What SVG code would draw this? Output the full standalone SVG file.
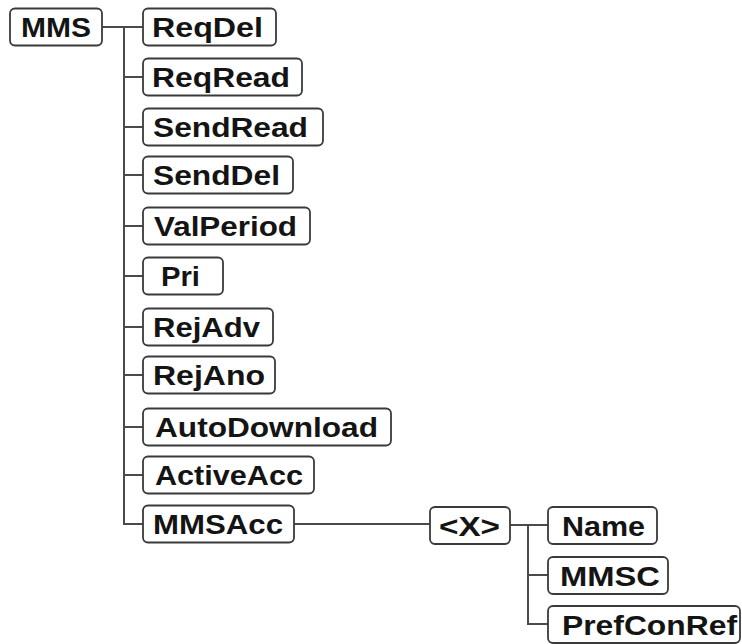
<svg xmlns="http://www.w3.org/2000/svg" width="742" height="644" viewBox="0 0 742 644">
  <style>
    .box { fill: #ffffff; stroke: #3a3a3a; stroke-width: 1.8; }
    .lbl { font-family: "Liberation Sans", Arial, sans-serif; font-weight: bold; font-size: 27px; fill: #141414; }
    .wire { fill: none; stroke: #4a4a4a; stroke-width: 2; }
  </style>
  <rect width="742" height="644" fill="#ffffff"/>

  <!-- tree connectors -->
  <g id="connectors" class="wire">
    <path d="M102 27 H143"/>
    <path d="M124 27 V524 H143"/>
    <path d="M124 77 H143 M124 127 H143 M124 175 H143 M124 226 H143 M124 276 H143 M124 327 H143 M124 375 H143 M124 427 H143 M124 475 H143"/>
    <path d="M294 524 H430"/>
    <path d="M510 525 H548"/>
    <path d="M528 525 V624 H548 M528 575 H548"/>
  </g>

  <g id="n-MMS"><rect class="box" x="10" y="8.5" width="92" height="37" rx="5"/><text class="lbl" x="21" y="37" textLength="70" lengthAdjust="spacingAndGlyphs">MMS</text></g>
  <g id="n-ReqDel"><rect class="box" x="143" y="8.5" width="133" height="37" rx="5"/><text class="lbl" x="152" y="37" textLength="111" lengthAdjust="spacingAndGlyphs">ReqDel</text></g>
  <g id="n-ReqRead"><rect class="box" x="143" y="58.5" width="159" height="37" rx="5"/><text class="lbl" x="152" y="87" textLength="138" lengthAdjust="spacingAndGlyphs">ReqRead</text></g>
  <g id="n-SendRead"><rect class="box" x="143" y="108.5" width="180" height="37" rx="5"/><text class="lbl" x="153" y="137" textLength="155" lengthAdjust="spacingAndGlyphs">SendRead</text></g>
  <g id="n-SendDel"><rect class="box" x="143" y="156.5" width="150" height="37" rx="5"/><text class="lbl" x="153" y="185" textLength="127" lengthAdjust="spacingAndGlyphs">SendDel</text></g>
  <g id="n-ValPeriod"><rect class="box" x="143" y="207.5" width="167" height="37" rx="5"/><text class="lbl" x="154" y="236" textLength="143" lengthAdjust="spacingAndGlyphs">ValPeriod</text></g>
  <g id="n-Pri"><rect class="box" x="143" y="257.5" width="80" height="37" rx="5"/><text class="lbl" x="161" y="286" textLength="39" lengthAdjust="spacingAndGlyphs">Pri</text></g>
  <g id="n-RejAdv"><rect class="box" x="143" y="308.5" width="130" height="37" rx="5"/><text class="lbl" x="153" y="337" textLength="107" lengthAdjust="spacingAndGlyphs">RejAdv</text></g>
  <g id="n-RejAno"><rect class="box" x="143" y="356.5" width="132" height="37" rx="5"/><text class="lbl" x="153" y="385" textLength="112" lengthAdjust="spacingAndGlyphs">RejAno</text></g>
  <g id="n-AutoDownload"><rect class="box" x="143" y="408.5" width="248" height="37" rx="5"/><text class="lbl" x="155" y="437" textLength="223" lengthAdjust="spacingAndGlyphs">AutoDownload</text></g>
  <g id="n-ActiveAcc"><rect class="box" x="143" y="456.5" width="171" height="37" rx="5"/><text class="lbl" x="155" y="485" textLength="148" lengthAdjust="spacingAndGlyphs">ActiveAcc</text></g>
  <g id="n-MMSAcc"><rect class="box" x="143" y="505.5" width="151" height="37" rx="5"/><text class="lbl" x="153" y="534" textLength="130" lengthAdjust="spacingAndGlyphs">MMSAcc</text></g>
  <g id="n-X"><rect class="box" x="430" y="507" width="80" height="37" rx="5"/><text class="lbl" x="439" y="536" textLength="61" lengthAdjust="spacingAndGlyphs">&lt;X&gt;</text></g>
  <g id="n-Name"><rect class="box" x="548" y="507" width="109" height="37" rx="5"/><text class="lbl" x="562" y="536" textLength="83" lengthAdjust="spacingAndGlyphs">Name</text></g>
  <g id="n-MMSC"><rect class="box" x="548" y="557" width="120" height="37" rx="5"/><text class="lbl" x="560" y="586" textLength="100" lengthAdjust="spacingAndGlyphs">MMSC</text></g>
  <g id="n-PrefConRef"><rect class="box" x="548" y="606" width="192" height="37" rx="5"/><text class="lbl" x="562" y="635" textLength="175" lengthAdjust="spacingAndGlyphs">PrefConRef</text></g>
</svg>
